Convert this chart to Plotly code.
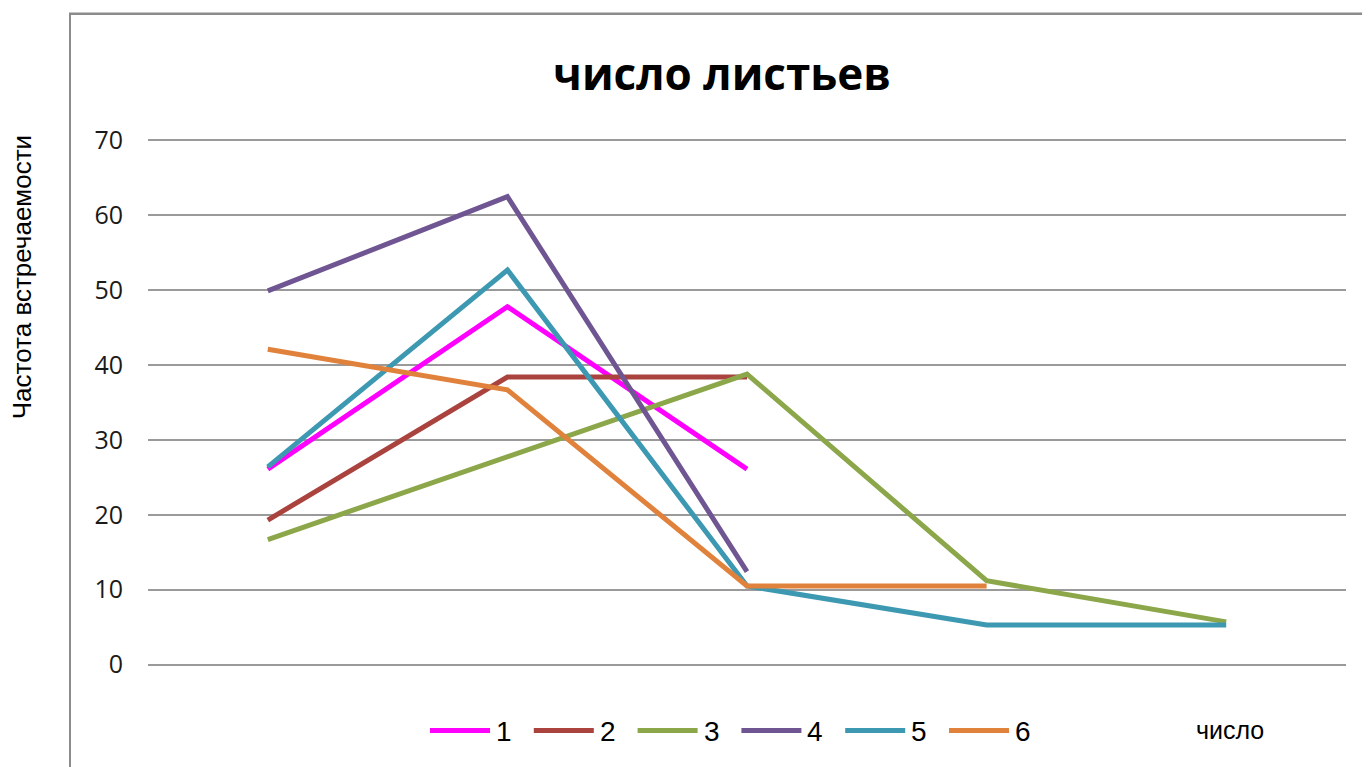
import plotly.graph_objects as go

categories = ["1", "2", "3", "4", "5"]
series_names = ["1", "2", "3", "4", "5", "6"]
s1 = [26.1, 47.8, 26.1, None, None]
s2 = [19.3, 38.4, 38.4, None, None]
s3 = [16.7, 27.8, 38.8, 11.2, 5.7]
s4 = [49.9, 62.5, 12.4, None, None]
s5 = [26.4, 52.7, 10.5, 5.3, 5.3]
s6 = [42.1, 36.7, 10.5, 10.5, None]
series_values = [s1, s2, s3, s4, s5, s6]
colors = ["#FF00FF", "#AA423E", "#8CA64A", "#6F5692", "#3D98B2", "#E0823B"]
y_ticks = [0, 10, 20, 30, 40, 50, 60, 70]

OFF = 8  # page body margin
W, H = 1370 - OFF, 767 - OFF
# reference pixel layout (screen coords)
PL, PR = 148, 1346          # plot left/right
Y0, Y70 = 665, 140          # pixel of y=0 and y=70
pxu = (Y0 - Y70) / 70.0
YMIN, YMAX = -5, 75
top = Y70 - (YMAX - 70) * pxu
bot = Y0 + (0 - YMIN) * pxu
L, R = PL - OFF, (1370 - PR)
T, B = top - OFF, 767 - bot
pw, ph = PR - PL, bot - top

def px(x):
    return (x - PL) / pw

def py(y):
    return (bot - y) / ph

fig = go.Figure()
for name, vals, c in zip(series_names, series_values, colors):
    fig.add_trace(go.Scatter(x=categories, y=vals, name=name, mode="lines",
                             line=dict(color=c, width=5), connectgaps=False,
                             showlegend=False))

fig.update_layout(
    width=W, height=H,
    margin=dict(l=L, r=R, t=T, b=B),
    plot_bgcolor="white", paper_bgcolor="white",
    title=dict(text="<b>число листьев</b>", x=px(722), xref="paper", xanchor="center",
               y=1 - (75 - OFF) / H, yref="container", yanchor="middle",
               font=dict(family="Open Sans", size=44, color="#000000")),
    xaxis=dict(type="category", showticklabels=False, showgrid=False, zeroline=False,
               showline=False, ticks="", range=[-0.5, 4.5]),
    yaxis=dict(range=[YMIN, YMAX], tickvals=y_ticks, showgrid=True, gridcolor="#9A9A9A",
               gridwidth=1.6, zeroline=False, showline=False, ticks="",
               ticklabelstandoff=24,
               tickfont=dict(family="Open Sans", size=25, color="#1A1A1A")),
    showlegend=False,
)

# legend drawn from series names / colours
leg_x0, leg_step, leg_y = 430, 103.8, 731
for i, (name, c) in enumerate(zip(series_names, colors)):
    x0 = leg_x0 + leg_step * i
    fig.add_shape(type="line", xref="paper", yref="paper",
                  x0=px(x0), x1=px(x0 + 60), y0=py(leg_y), y1=py(leg_y),
                  line=dict(color=c, width=5))
    fig.add_annotation(text=name, xref="paper", yref="paper",
                       x=px(x0 + 64), y=py(leg_y + 1), xanchor="left", yanchor="middle",
                       showarrow=False,
                       font=dict(family="Liberation Sans Narrow, Liberation Sans", size=28,
                                 color="#000000"))

fig.add_annotation(text="Частота встречаемости", xref="paper", yref="paper",
                   x=px(22), y=py(277), xanchor="center", yanchor="middle",
                   textangle=-90, showarrow=False,
                   font=dict(family="Liberation Sans", size=26, color="#000000"))
fig.add_annotation(text="число", xref="paper", yref="paper",
                   x=px(1230), y=py(731), xanchor="center", yanchor="middle",
                   showarrow=False,
                   font=dict(family="Liberation Sans", size=25, color="#000000"))

fig.add_shape(type="line", xref="paper", yref="paper", x0=px(70), x1=px(70),
              y0=py(13), y1=py(780), line=dict(color="#8C8C8C", width=2))
fig.add_shape(type="line", xref="paper", yref="paper", x0=px(69), x1=px(1380),
              y0=py(13), y1=py(13), line=dict(color="#8C8C8C", width=2.5))

fig.write_html("out.html")
